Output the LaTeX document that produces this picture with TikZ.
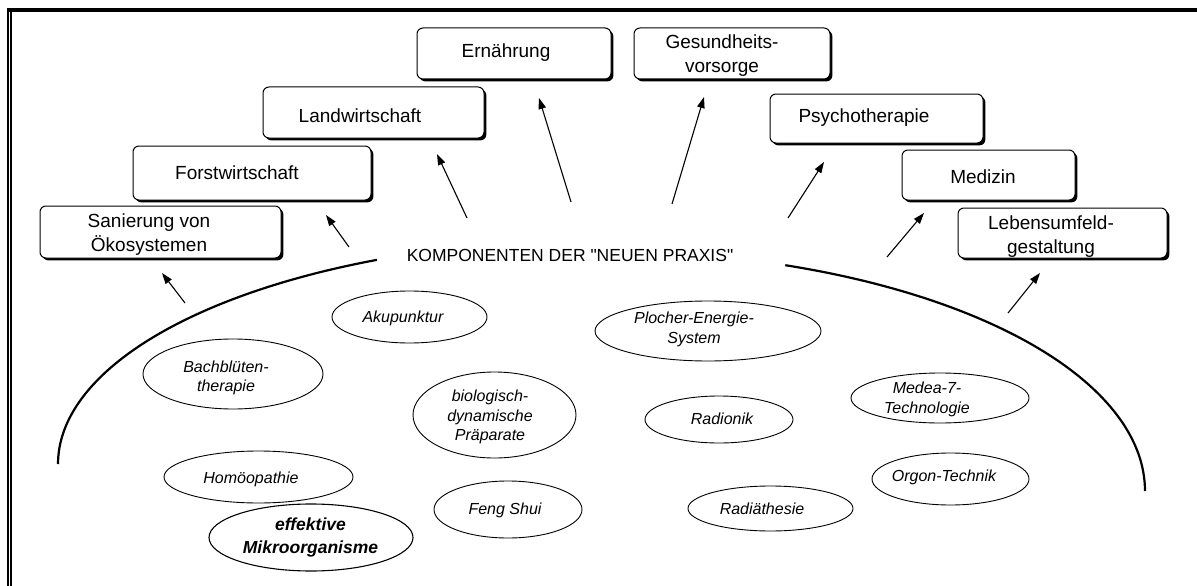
\documentclass[tikz,border=0pt]{standalone}
\usepackage{fontspec}
\setmainfont{Liberation Sans}[Ligatures=TeXOff]
\usetikzlibrary{shapes.geometric,shadows,arrows.meta}

\tikzset{
  pbox/.style={draw, line width=1pt, rounded corners=6pt, fill=white,
    inner sep=0pt,
    drop shadow={shadow xshift=2.4pt, shadow yshift=-2.4pt, fill=black, opacity=1}},
  ptext/.style={inner sep=0pt, align=center, font=\fontsize{19}{24.5}\selectfont},
  comp/.style={draw, ellipse, line width=0.9pt, inner sep=0pt},
  ctext/.style={inner sep=0pt, align=center, font=\fontsize{16}{19.5}\selectfont\itshape},
  cbold/.style={inner sep=0pt, align=center, font=\fontsize{17.5}{23}\selectfont\bfseries\itshape},
  ptr/.style={line width=1.1pt, -{Triangle[length=11pt,width=7.5pt]}},
  rim/.style={line width=2.2pt},
}

\begin{document}
\begin{tikzpicture}[x=1pt, y=-1pt]
\useasboundingbox (0,0) rectangle (1197,586);

% page frame: heavy top rule, double rule on the left
\fill (7,8) rectangle (1197,12);
\fill (7,8) rectangle (9,586);
\fill (10,12) rectangle (12,586);

% fields of application
\node[pbox, minimum width=241pt, minimum height=52pt] (san) at (160.5,232) {};
\node[ptext] (san-t) at (149,234.5) {Sanierung von\\Ökosystemen};
\node[pbox, minimum width=238pt, minimum height=54pt] (forst) at (252,173) {};
\node[ptext] (forst-t) at (237,173) {Forstwirtschaft};
\node[pbox, minimum width=221pt, minimum height=51pt] (land) at (373.5,112.5) {};
\node[ptext] (land-t) at (360,116) {Landwirtschaft};
\node[pbox, minimum width=194pt, minimum height=51pt] (ern) at (514,53.5) {};
\node[ptext] (ern-t) at (506,53) {Ernährung};
\node[pbox, minimum width=196pt, minimum height=51pt] (ges) at (732,53.5) {};
\node[ptext] (ges-t) at (722,55.5) {Gesundheits-\\vorsorge};
\node[pbox, minimum width=213pt, minimum height=49pt] (psy) at (876.5,118.5) {};
\node[ptext] (psy-t) at (864,118) {Psychotherapie};
\node[pbox, minimum width=173pt, minimum height=50pt] (med) at (988.5,175) {};
\node[ptext] (med-t) at (983,177) {Medizin};
\node[pbox, minimum width=209pt, minimum height=50pt] (leb) at (1062.5,233) {};
\node[ptext] (leb-t) at (1051,236.5) {Lebensumfeld-\\gestaltung};

% heading of the practice components
\node[inner sep=0pt, font=\fontsize{17.5}{21}\selectfont] (komp) at (570,255)
  {KOMPONENTEN DER "NEUEN PRAXIS"};

% arrow ends
\coordinate (a1s) at (185,303);  \coordinate (a1e) at (162,273);
\coordinate (a2s) at (349,247);  \coordinate (a2e) at (326,215);
\coordinate (a3s) at (467,218);  \coordinate (a3e) at (437,154);
\coordinate (a4s) at (571,202);  \coordinate (a4e) at (539,98);
\coordinate (a5s) at (672,204);  \coordinate (a5e) at (704,97);
\coordinate (a6s) at (788,218);  \coordinate (a6e) at (824,162);
\coordinate (a7s) at (887,257);  \coordinate (a7e) at (924,213);
\coordinate (a8s) at (1008,313); \coordinate (a8e) at (1040,273);
\foreach \i in {1,...,8} \draw[ptr] (a\i s) -- (a\i e);

% the two rims of the bowl
\draw[rim] plot[domain=114.3:180, samples=80, smooth] ({600+542*cos(\x)}, {464-224*sin(\x)});
\draw[rim] plot[domain=0:70.2, samples=80, smooth] ({601+544*cos(\x)}, {491-240*sin(\x)});

% components
\node[comp, minimum width=180pt, minimum height=70pt] (bach) at (233,374) {};
\node[ctext] (bach-t) at (226,378) {Bachblüten-\\therapie};
\node[comp, minimum width=189pt, minimum height=52pt] (homo) at (258.5,477) {};
\node[ctext] (homo-t) at (251,479) {Homöopathie};
\node[comp, line width=1.1pt, minimum width=204pt, minimum height=67pt] (em) at (311,537.5) {};
\node[cbold] (em-t) at (310.5,537.5) {effektive\\Mikroorganisme};
\node[comp, minimum width=155pt, minimum height=52pt] (aku) at (409.5,317) {};
\node[ctext] (aku-t) at (403,318) {Akupunktur};
\node[comp, minimum width=163pt, minimum height=86pt] (bio) at (494.5,415) {};
\node[ctext] (bio-t) at (490,417) {biologisch-\\dynamische\\Präparate};
\node[comp, minimum width=148pt, minimum height=57pt] (feng) at (508,509.5) {};
\node[ctext] (feng-t) at (505,510) {Feng Shui};
\node[comp, minimum width=226pt, minimum height=60pt] (plo) at (708,331) {};
\node[ctext] (plo-t) at (694,329.5) {Plocher-Energie-\\System};
\node[comp, minimum width=148pt, minimum height=47pt] (rad) at (719,419.5) {};
\node[ctext] (rad-t) at (722,419) {Radionik};
\node[comp, minimum width=165pt, minimum height=45pt] (radi) at (770.5,508.5) {};
\node[ctext] (radi-t) at (762,509) {Radiäthesie};
\node[comp, minimum width=178pt, minimum height=50pt] (medea) at (940,398) {};
\node[ctext] (medea-t) at (927,399.5) {Medea-7-\\Technologie};
\node[comp, minimum width=157pt, minimum height=52pt] (orgon) at (950.5,479) {};
\node[ctext] (orgon-t) at (944,477) {Orgon-Technik};
\end{tikzpicture}
\end{document}
